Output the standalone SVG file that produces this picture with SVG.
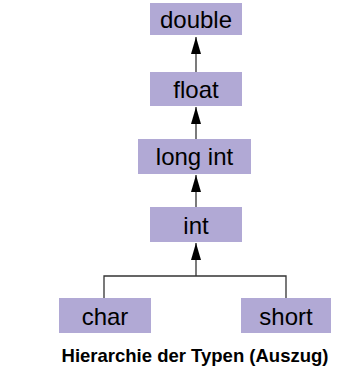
<svg xmlns="http://www.w3.org/2000/svg" width="349" height="374" viewBox="0 0 349 374">
<defs>
<marker id="ah" markerWidth="17" markerHeight="10" refX="17" refY="5" orient="auto" markerUnits="userSpaceOnUse" viewBox="0 0 17 10">
<path d="M0,0 L17,5 L0,10 Z" fill="#000"/>
</marker>
</defs>
<style>
.box{fill:#b1a9d5;}
.lbl{font-family:"Liberation Sans",Arial,sans-serif;font-size:24px;fill:#000;text-anchor:middle;}
.edge{stroke:#333;stroke-width:1.3;fill:none;}
.cap{font-family:"Liberation Sans",Arial,sans-serif;font-size:18.5px;font-weight:bold;fill:#000;text-anchor:middle;}
</style>
<g id="connectors">
<line class="edge" x1="196" y1="72" x2="196" y2="37" marker-end="url(#ah)"/>
<line class="edge" x1="196" y1="139" x2="196" y2="107" marker-end="url(#ah)"/>
<line class="edge" x1="196" y1="207" x2="196" y2="175" marker-end="url(#ah)"/>
<polyline class="edge" points="104,298 104,276 286,276 286,298"/>
<line class="edge" x1="196" y1="276" x2="196" y2="243" marker-end="url(#ah)"/>
</g>
<g id="double"><rect class="box" x="150" y="3" width="92" height="32"/><text class="lbl" x="196" y="27.5">double</text></g>
<g id="float"><rect class="box" x="150" y="72" width="92" height="34"/><text class="lbl" x="196" y="97.5">float</text></g>
<g id="longint"><rect class="box" x="138" y="139" width="113" height="35"/><text class="lbl" x="194.5" y="164.5">long int</text></g>
<g id="int"><rect class="box" x="150" y="207" width="92" height="35"/><text class="lbl" x="196" y="233.5">int</text></g>
<g id="char"><rect class="box" x="59" y="298" width="92" height="35"/><text class="lbl" x="105" y="324.5">char</text></g>
<g id="short"><rect class="box" x="241" y="298" width="90" height="35"/><text class="lbl" x="286" y="324.5">short</text></g>
<text class="cap" x="195" y="362">Hierarchie der Typen (Auszug)</text>
</svg>
